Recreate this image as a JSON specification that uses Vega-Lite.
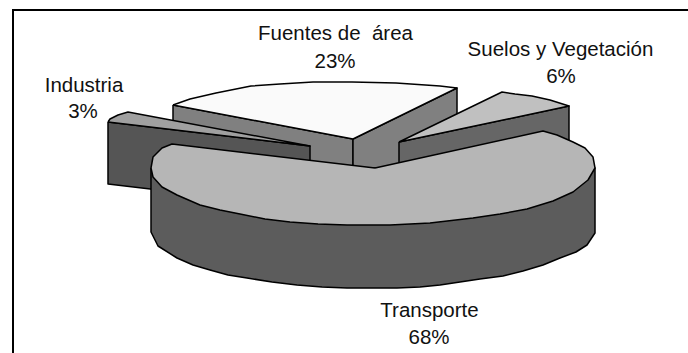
{"$schema":"https://vega.github.io/schema/vega-lite/v6.json","width":688,"height":353,"padding":0,"autosize":"none","background":"white","view":{"stroke":null},
"datasets":{"shapes":[
{"part":"Fuentes lado izq","seq":1,"x":173,"y":105},{"part":"Fuentes lado izq","seq":2,"x":353,"y":139},{"part":"Fuentes lado izq","seq":3,"x":353,"y":201},{"part":"Fuentes lado izq","seq":4,"x":173,"y":167},{"part":"Fuentes lado izq","seq":5,"x":173,"y":105},
{"part":"Fuentes lado der","seq":6,"x":353,"y":139},{"part":"Fuentes lado der","seq":7,"x":457,"y":88},{"part":"Fuentes lado der","seq":8,"x":457,"y":150},{"part":"Fuentes lado der","seq":9,"x":353,"y":201},{"part":"Fuentes lado der","seq":10,"x":353,"y":139},
{"part":"Fuentes","seq":11,"x":173,"y":105},{"part":"Fuentes","seq":12,"x":190,"y":99},{"part":"Fuentes","seq":13,"x":216,"y":93},{"part":"Fuentes","seq":14,"x":251,"y":86},{"part":"Fuentes","seq":15,"x":280,"y":84},{"part":"Fuentes","seq":16,"x":313,"y":82},{"part":"Fuentes","seq":17,"x":352,"y":82},{"part":"Fuentes","seq":18,"x":396,"y":83},{"part":"Fuentes","seq":19,"x":440,"y":86},{"part":"Fuentes","seq":20,"x":457,"y":88},{"part":"Fuentes","seq":21,"x":353,"y":139},{"part":"Fuentes","seq":22,"x":173,"y":105},
{"part":"Industria lado","seq":23,"x":108,"y":122},{"part":"Industria lado","seq":24,"x":310,"y":146},{"part":"Industria lado","seq":25,"x":310,"y":208},{"part":"Industria lado","seq":26,"x":108,"y":184},{"part":"Industria lado","seq":27,"x":108,"y":122},
{"part":"Industria","seq":28,"x":108,"y":122},{"part":"Industria","seq":29,"x":110,"y":119},{"part":"Industria","seq":30,"x":118,"y":115},{"part":"Industria","seq":31,"x":128,"y":112},{"part":"Industria","seq":32,"x":310,"y":146},{"part":"Industria","seq":33,"x":108,"y":122},
{"part":"Suelos lado","seq":34,"x":399,"y":142},{"part":"Suelos lado","seq":35,"x":569,"y":106},{"part":"Suelos lado","seq":36,"x":569,"y":168},{"part":"Suelos lado","seq":37,"x":399,"y":204},{"part":"Suelos lado","seq":38,"x":399,"y":142},
{"part":"Suelos","seq":39,"x":399,"y":142},{"part":"Suelos","seq":40,"x":502,"y":92},{"part":"Suelos","seq":41,"x":515,"y":94},{"part":"Suelos","seq":42,"x":532,"y":96},{"part":"Suelos","seq":43,"x":550,"y":100},{"part":"Suelos","seq":44,"x":569,"y":106},{"part":"Suelos","seq":45,"x":399,"y":142},
{"part":"Transporte lado","seq":46,"x":151,"y":168},{"part":"Transporte lado","seq":47,"x":151,"y":232},{"part":"Transporte lado","seq":48,"x":158,"y":246},{"part":"Transporte lado","seq":49,"x":177,"y":258},{"part":"Transporte lado","seq":50,"x":193,"y":265},{"part":"Transporte lado","seq":51,"x":210,"y":270},{"part":"Transporte lado","seq":52,"x":228,"y":275},{"part":"Transporte lado","seq":53,"x":247,"y":278},{"part":"Transporte lado","seq":54,"x":272,"y":282},{"part":"Transporte lado","seq":55,"x":297,"y":285},{"part":"Transporte lado","seq":56,"x":322,"y":287},{"part":"Transporte lado","seq":57,"x":347,"y":288},{"part":"Transporte lado","seq":58,"x":397,"y":288},{"part":"Transporte lado","seq":59,"x":420,"y":287},{"part":"Transporte lado","seq":60,"x":440,"y":285},{"part":"Transporte lado","seq":61,"x":480,"y":279},{"part":"Transporte lado","seq":62,"x":503,"y":276},{"part":"Transporte lado","seq":63,"x":523,"y":271},{"part":"Transporte lado","seq":64,"x":543,"y":265},{"part":"Transporte lado","seq":65,"x":560,"y":258},{"part":"Transporte lado","seq":66,"x":576,"y":252},{"part":"Transporte lado","seq":67,"x":587,"y":245},{"part":"Transporte lado","seq":68,"x":595,"y":233},{"part":"Transporte lado","seq":69,"x":595,"y":168},{"part":"Transporte lado","seq":70,"x":400,"y":168},{"part":"Transporte lado","seq":71,"x":151,"y":168},
{"part":"Transporte","seq":72,"x":375,"y":168},{"part":"Transporte","seq":73,"x":172,"y":144},{"part":"Transporte","seq":74,"x":162,"y":148},{"part":"Transporte","seq":75,"x":153,"y":157},{"part":"Transporte","seq":76,"x":151,"y":168},{"part":"Transporte","seq":77,"x":153,"y":177},{"part":"Transporte","seq":78,"x":162,"y":187},{"part":"Transporte","seq":79,"x":177,"y":195},{"part":"Transporte","seq":80,"x":200,"y":205},{"part":"Transporte","seq":81,"x":220,"y":210},{"part":"Transporte","seq":82,"x":240,"y":214},{"part":"Transporte","seq":83,"x":265,"y":219},{"part":"Transporte","seq":84,"x":290,"y":222},{"part":"Transporte","seq":85,"x":318,"y":224},{"part":"Transporte","seq":86,"x":347,"y":225},{"part":"Transporte","seq":87,"x":390,"y":225},{"part":"Transporte","seq":88,"x":430,"y":223},{"part":"Transporte","seq":89,"x":473,"y":218},{"part":"Transporte","seq":90,"x":500,"y":214},{"part":"Transporte","seq":91,"x":527,"y":209},{"part":"Transporte","seq":92,"x":553,"y":201},{"part":"Transporte","seq":93,"x":573,"y":192},{"part":"Transporte","seq":94,"x":588,"y":180},{"part":"Transporte","seq":95,"x":595,"y":168},{"part":"Transporte","seq":96,"x":593,"y":157},{"part":"Transporte","seq":97,"x":585,"y":148},{"part":"Transporte","seq":98,"x":573,"y":142},{"part":"Transporte","seq":99,"x":557,"y":135},{"part":"Transporte","seq":100,"x":543,"y":131},{"part":"Transporte","seq":101,"x":375,"y":168}
],
"frame":[{"seq":1,"x":13,"y":360},{"seq":2,"x":13,"y":10},{"seq":3,"x":700,"y":10}],
"labels":[
{"t":"Fuentes de \u00a0área","x":335.5,"y":40},{"t":"23%","x":335,"y":67.5},
{"t":"Suelos y Vegetación","x":560.5,"y":56},{"t":"6%","x":561,"y":83},
{"t":"Industria","x":84,"y":92},{"t":"3%","x":83,"y":118},
{"t":"Transporte","x":429.5,"y":316.5},{"t":"68%","x":429,"y":344}
]},
"layer":[
{"data":{"name":"frame"},"mark":{"type":"line","stroke":"black","strokeWidth":2,"clip":true},"encoding":{"x":{"field":"x","type":"quantitative","scale":{"domain":[0,688]},"axis":null},"y":{"field":"y","type":"quantitative","scale":{"domain":[353,0]},"axis":null},"order":{"field":"seq"}}},
{"data":{"name":"shapes"},"mark":{"type":"line","stroke":"black","strokeWidth":1.5,"strokeJoin":"round"},"encoding":{"x":{"field":"x","type":"quantitative","scale":{"domain":[0,688]},"axis":null},"y":{"field":"y","type":"quantitative","scale":{"domain":[353,0]},"axis":null},"order":{"field":"seq"},"detail":{"field":"part"},"fill":{"field":"part","type":"nominal","legend":null,"scale":{"domain":["Fuentes lado izq","Fuentes lado der","Fuentes","Industria lado","Industria","Suelos lado","Suelos","Transporte lado","Transporte"],"range":["#808080","#808080","#fafafa","#555555","#a0a0a0","#666666","#c0c0c0","#5c5c5c","#b6b6b6"]}}}},
{"data":{"name":"labels"},"mark":{"type":"text","font":"Liberation Sans","fontSize":20.5,"color":"#111111","align":"center","baseline":"alphabetic"},"encoding":{"x":{"field":"x","type":"quantitative","scale":{"domain":[0,688]},"axis":null},"y":{"field":"y","type":"quantitative","scale":{"domain":[353,0]},"axis":null},"text":{"field":"t"}}}
]}
